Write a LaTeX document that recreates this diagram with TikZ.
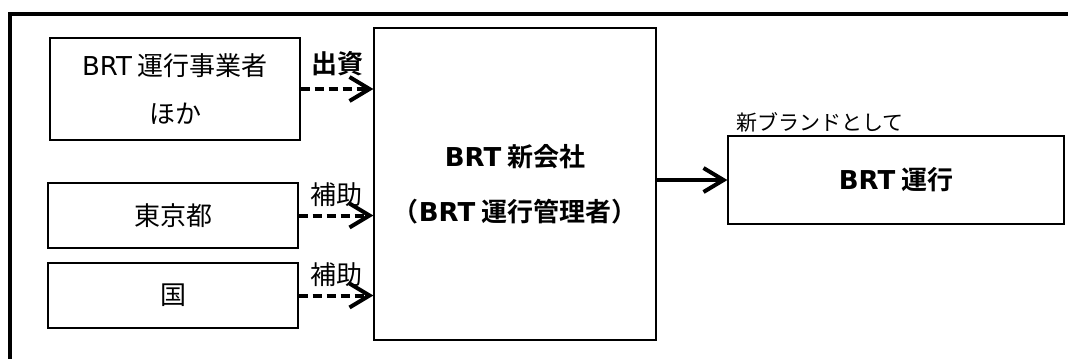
\documentclass[tikz,border=0pt]{standalone}
\usepackage{fontspec}
\setmainfont{Noto Sans CJK JP}[BoldFont={Noto Sans CJK JP Bold}]
\newfontfamily\latinfont{DejaVu Sans}
\newcommand{\brt}{{\latinfont BRT}}
\usetikzlibrary{arrows.meta}

\begin{document}
\begin{tikzpicture}[x=0.5pt,y=-0.5pt,
  thick,org node/.style={rectangle,draw,line width=0.6pt,minimum width=125pt,
    font=\fontsize{13}{22}\selectfont,align=center},
  main node/.style={rectangle,draw,line width=0.6pt,
    font=\bfseries\fontsize{13}{27.5}\selectfont,align=center},
  flow label/.style={font=\fontsize{13}{15}\selectfont},
  fund/.style={-{Straight Barb[length=10pt,width=12pt]},line width=2pt,dash pattern=on 4.5pt off 2.5pt},
  run/.style={-{Straight Barb[length=10pt,width=12pt]},line width=2pt}]

  \useasboundingbox (0,0) rectangle (1068,358);
  \draw [line width=2pt] (1080,14) -- (10,14) -- (10,370);

  \node[org node,minimum height=51pt] (11) at (175,89) {\brt\ 運行事業者\\[2pt]ほか};
   \node[org node,minimum height=32.5pt] (21) at (173,215.5) {東京都};
    \node[org node,minimum height=32.5pt] (31) at (173,295.5) {国};
  \node[main node,minimum width=141pt,minimum height=156pt] (12) at (515,184) {\brt\ 新会社\\（\brt\ 運行管理者）};
     \node[main node,minimum width=168pt,minimum height=44pt] (13) at (896,180) {\brt\ 運行};
    \node[flow label,anchor=south west,inner sep=1pt,xshift=3pt,font=\fontsize{10.5}{12}\selectfont] (14) at (13.north west) {新ブランドとして};

  \draw [fund] (11) to node [flow label,above=2pt]{\bfseries 出資} (11 -| 12.west);
    \draw [fund] (21) to node [flow label,above]{補助} (21 -| 12.west);
    \draw [fund] (31) to node [flow label,above]{補助} (31 -| 12.west);
        \draw [run] (13.west -| 12.east) to (13.west);
\end{tikzpicture}
\end{document}
